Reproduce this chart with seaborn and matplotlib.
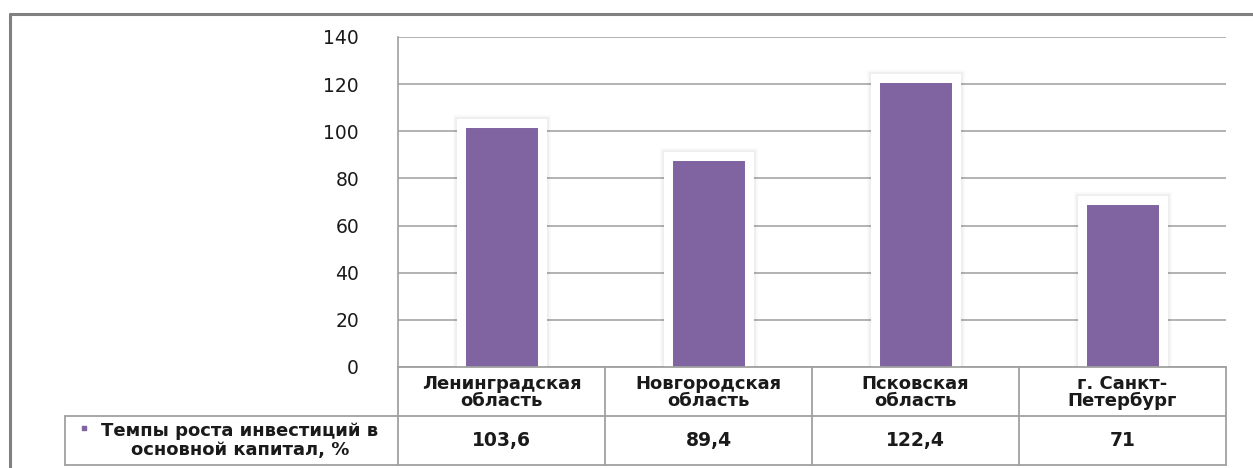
import matplotlib
matplotlib.use("Agg")
import matplotlib.pyplot as plt
import matplotlib.patheffects as pe
from matplotlib.lines import Line2D
import pandas as pd
import seaborn as sns

# данные
regions = ["Ленинградская\nобласть", "Новгородская\nобласть", "Псковская\nобласть", "г. Санкт-\nПетербург"]
growth = [103.6, 89.4, 122.4, 71]
series_name = "Темпы роста инвестиций в\nосновной капитал, %"
y_ticks = [0, 20, 40, 60, 80, 100, 120, 140]

W, H = 1253, 468
PURPLE = "#8064A2"
GRID = "#a6a6a6"
LINE = "#a0a0a0"
TXT = "#1a1a1a"

df = pd.DataFrame({"region": regions, "growth": growth})

sns.set_style("white")
plt.rcParams["font.family"] = ["DejaVu Sans"]

fig = plt.figure(figsize=(W / 100, H / 100), dpi=100)

# outer frame (only top and left visible in the crop)
fig.add_artist(Line2D([10 / W, 1.0], [1 - 14 / H, 1 - 14 / H], color="#808080", lw=2.2))
fig.add_artist(Line2D([10 / W, 10 / W], [0, 1 - 14 / H], color="#808080", lw=2.2))

# main plot
x0, x1 = 398, 1226
y_top, y_zero = 37, 367
ax = fig.add_axes([x0 / W, 1 - y_zero / H, (x1 - x0) / W, (y_zero - y_top) / H])

shadow = [pe.Stroke(linewidth=12, foreground="black", alpha=0.025),
          pe.Stroke(linewidth=9.5, foreground="black", alpha=0.04),
          pe.Normal()]
sns.barplot(data=df, x="region", y="growth", color=PURPLE, saturation=1,
            width=0.396, edgecolor="white", linewidth=6.5, ax=ax)
for p in ax.patches:
    p.set_path_effects(shadow)
    # let the bar run under the baseline so the white edge only frames top and sides
    p.set_y(-4)
    p.set_height(p.get_height() + 4)

ax.set_xlim(-0.5, len(regions) - 0.5)
ax.set_ylim(0, 140)
ax.set_yticks(y_ticks)
ax.set_yticklabels([str(t) for t in y_ticks], fontsize=13.5)
ax.yaxis.grid(True, color=GRID, lw=1.2)
ax.set_axisbelow(True)
ax.set_xticks([])
ax.set_xlabel("")
ax.set_ylabel("")
for s in ["top", "right", "bottom"]:
    ax.spines[s].set_visible(False)
ax.spines["left"].set_color(LINE)
ax.spines["left"].set_linewidth(1.2)
ax.tick_params(axis="y", length=8, width=1.2, color=LINE, pad=20, labelcolor=TXT)

# data table under the chart
tbl_left, tbl_bottom = 65, 465
col_w = (x1 - x0) / len(regions)
xl = -0.5 - (x0 - tbl_left) / col_w
xr = len(regions) - 0.5
axt = fig.add_axes([tbl_left / W, 1 - tbl_bottom / H, (x1 - tbl_left) / W, (tbl_bottom - y_zero) / H])
axt.set_xlim(xl, xr)
axt.set_ylim(0, 1)
axt.axis("off")

kw = dict(color=LINE, lw=1.3, clip_on=False)
axt.plot([-0.5, xr], [1, 1], **kw)
axt.plot([xl, xr], [0.5, 0.5], **kw)
axt.plot([xl, xr], [0, 0], **kw)
axt.plot([xl, xl], [0, 0.5], **kw)
for i in range(len(regions) + 1):
    axt.plot([i - 0.5, i - 0.5], [0, 1], **kw)

for i, (name, val) in enumerate(zip(regions, growth)):
    axt.text(i, 0.74, name, ha="center", va="center", fontsize=13,
             fontweight="bold", linespacing=0.95, color=TXT)
    axt.text(i, 0.25, f"{val:g}".replace(".", ","), ha="center", va="center",
             fontsize=13.5, fontweight="bold", color=TXT)

legend_cx = xl + (240 - tbl_left) / col_w
axt.text(legend_cx, 0.25, series_name, ha="center", va="center", fontsize=13,
         fontweight="bold", linespacing=1.0, multialignment="center", color=TXT)
axt.scatter([xl + (84 - tbl_left) / col_w], [0.38], marker="s", s=12, color=PURPLE, clip_on=False)

fig.savefig("out.png", dpi=100, facecolor="white")
